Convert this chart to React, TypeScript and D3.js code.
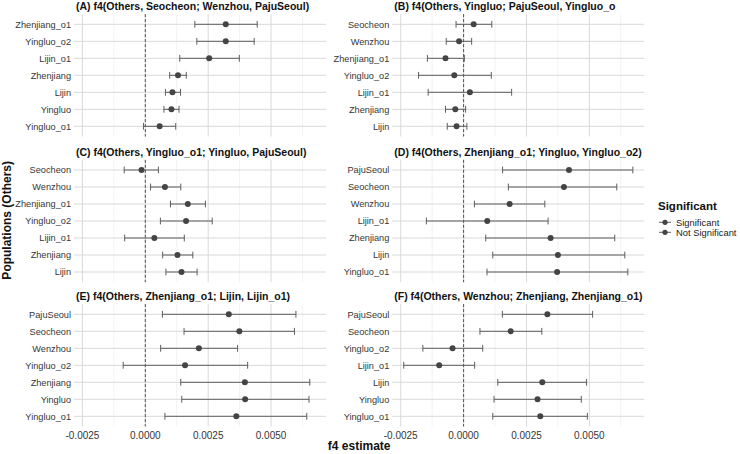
import React from "react";
import * as d3 from "d3";

// f4 estimates with confidence limits, one set of arrays per panel (rows listed top to bottom)
const popsA = ["Zhenjiang_o1", "Yingluo_o2", "Lijin_o1", "Zhenjiang", "Lijin", "Yingluo", "Yingluo_o1"];
const estA = [0.0032, 0.0032, 0.00254, 0.0013, 0.00108, 0.00104, 0.00057];
const lowA = [0.00197, 0.00205, 0.00137, 0.00097, 0.0008, 0.00074, -0.00007];
const highA = [0.00445, 0.00433, 0.00374, 0.00163, 0.0014, 0.00134, 0.00121];

const popsB = ["Seocheon", "Wenzhou", "Zhenjiang_o1", "Yingluo_o2", "Lijin_o1", "Zhenjiang", "Lijin"];
const estB = [0.0004, -0.00018, -0.00072, -0.00037, 0.00025, -0.00033, -0.00028];
const lowB = [-0.0003, -0.00069, -0.00144, -0.00179, -0.00141, -0.00072, -0.00065];
const highB = [0.00112, 0.00032, 0.00003, 0.0011, 0.00191, 0.00008, 0.00013];

const popsC = ["Seocheon", "Wenzhou", "Zhenjiang_o1", "Yingluo_o2", "Lijin_o1", "Zhenjiang", "Lijin"];
const estC = [-0.00015, 0.00078, 0.00169, 0.00162, 0.00036, 0.00128, 0.00144];
const lowC = [-0.00084, 0.00021, 0.001, 0.0006, -0.00082, 0.00069, 0.00082];
const highC = [0.00052, 0.00141, 0.00239, 0.00266, 0.00155, 0.00189, 0.00206];

const popsD = ["PajuSeoul", "Seocheon", "Wenzhou", "Lijin_o1", "Zhenjiang", "Lijin", "Yingluo_o1"];
const estD = [0.00419, 0.00399, 0.00183, 0.00094, 0.00346, 0.00375, 0.00372];
const lowD = [0.00155, 0.00178, 0.00043, -0.00148, 0.00088, 0.00116, 0.00093];
const highD = [0.00673, 0.00609, 0.00323, 0.00336, 0.00601, 0.00641, 0.00653];

const popsE = ["PajuSeoul", "Seocheon", "Wenzhou", "Yingluo_o2", "Zhenjiang", "Yingluo", "Yingluo_o1"];
const estE = [0.00332, 0.00374, 0.00213, 0.00158, 0.00396, 0.00397, 0.00362];
const lowE = [0.00068, 0.00154, 0.00061, -0.00088, 0.00141, 0.00145, 0.00078];
const highE = [0.00599, 0.00593, 0.00367, 0.00407, 0.00654, 0.00651, 0.00642];

const popsF = ["PajuSeoul", "Seocheon", "Yingluo_o2", "Lijin_o1", "Lijin", "Yingluo", "Yingluo_o1"];
const estF = [0.00333, 0.00187, -0.00044, -0.00097, 0.00313, 0.00294, 0.00305];
const lowF = [0.00154, 0.00065, -0.00162, -0.00238, 0.00136, 0.00121, 0.00116];
const highF = [0.00513, 0.00311, 0.00076, 0.00044, 0.00489, 0.00468, 0.00492];

const titles = [
  "(A) f4(Others, Seocheon; Wenzhou, PajuSeoul)",
  "(B) f4(Others, Yingluo; PajuSeoul, Yingluo_o",
  "(C) f4(Others, Yingluo_o1; Yingluo, PajuSeoul)",
  "(D) f4(Others, Zhenjiang_o1; Yingluo, Yingluo_o2)",
  "(E) f4(Others, Zhenjiang_o1; Lijin, Lijin_o1)",
  "(F) f4(Others, Wenzhou; Zhenjiang, Zhenjiang_o1)",
];

const majorTicks = [-0.0025, 0, 0.0025, 0.005];
const minorTicks = [-0.00125, 0.00125, 0.00375, 0.00625];
const legendLabels = ["Significant", "Not Significant"];

const panels = [
  { pops: popsA, est: estA, low: lowA, high: highA },
  { pops: popsB, est: estB, low: lowB, high: highB },
  { pops: popsC, est: estC, low: lowC, high: highC },
  { pops: popsD, est: estD, low: lowD, high: highD },
  { pops: popsE, est: estE, low: lowE, high: highE },
  { pops: popsF, est: estF, low: lowF, high: highF },
];

const W = 740;
const H = 454;
const font = "'Liberation Sans', Arial, Helvetica, sans-serif";
const colLeft = [74, 392.3];
const panelW = 252;
const rowTop = [14.1, 159.8, 304.1];
const panelH = 122.4;

const pointColor = "#444444";
const barColor = "#5e5e5e";
const gridMajor = "#d9d9d9";
const gridMinor = "#e9e9e9";

// shared x scale with ggplot-style 5% expansion
const allLow = d3.min(panels.flatMap((p) => p.low)) as number;
const allHigh = d3.max(panels.flatMap((p) => p.high)) as number;
const pad = (allHigh - allLow) * 0.05;

function Panel({ idx }: { idx: number }) {
  const p = panels[idx];
  const col = idx % 2;
  const row = Math.floor(idx / 2);
  const x0 = colLeft[col];
  const y0 = rowTop[row];
  const x = d3.scaleLinear().domain([allLow - pad, allHigh + pad]).range([x0, x0 + panelW]);
  const y = d3.scalePoint<string>().domain(p.pops).range([y0, y0 + panelH]).padding(0.6);
  const cap = y.step() * 0.2;
  const clipId = `clip-${idx}`;

  return (
    <g>
      <defs>
        <clipPath id={clipId}>
          <rect x={x0} y={y0 - 16} width={W - x0 - 94} height={20} />
        </clipPath>
      </defs>
      {minorTicks.map((t) => (
        <line key={"mi" + t} x1={x(t)} x2={x(t)} y1={y0} y2={y0 + panelH} stroke={gridMinor} strokeWidth={0.6} />
      ))}
      {majorTicks.map((t) => (
        <line key={"ma" + t} x1={x(t)} x2={x(t)} y1={y0} y2={y0 + panelH} stroke={gridMajor} strokeWidth={1} />
      ))}
      {p.pops.map((name) => (
        <line key={"h" + name} x1={x0} x2={x0 + panelW} y1={y(name)} y2={y(name)} stroke={gridMajor} strokeWidth={1} />
      ))}
      {p.pops.map((name) => (
        <text
          key={"l" + name}
          x={x0 - 3}
          y={(y(name) as number) + 3.2}
          textAnchor="end"
          fontSize={9.2}
          fill="#363636"
        >
          {name}
        </text>
      ))}
      <line x1={x(0)} x2={x(0)} y1={y0} y2={y0 + panelH} stroke="#505050" strokeWidth={1} strokeDasharray="3,2" />
      {p.pops.map((name, i) => {
        const cy = y(name) as number;
        return (
          <g key={"m" + name}>
            <line x1={x(p.low[i])} x2={x(p.high[i])} y1={cy} y2={cy} stroke={barColor} strokeWidth={1} />
            <line x1={x(p.low[i])} x2={x(p.low[i])} y1={cy - cap} y2={cy + cap} stroke={barColor} strokeWidth={1} />
            <line x1={x(p.high[i])} x2={x(p.high[i])} y1={cy - cap} y2={cy + cap} stroke={barColor} strokeWidth={1} />
            <circle cx={x(p.est[i])} cy={cy} r={3} fill={pointColor} />
          </g>
        );
      })}
      <text x={x0 + 2} y={y0 - 4} fontSize={10.5} fontWeight="bold" fill="#111" clipPath={`url(#${clipId})`}>
        {titles[idx]}
      </text>
      {row === 2 &&
        majorTicks.map((t) => (
          <text key={"xt" + t} x={x(t)} y={y0 + panelH + 12.5} textAnchor="middle" fontSize={10} fill="#363636">
            {t.toFixed(4)}
          </text>
        ))}
    </g>
  );
}

export default function App() {
  const plotMid = (colLeft[0] + colLeft[1] + panelW) / 2;
  const yMid = (rowTop[0] + rowTop[2] + panelH) / 2;
  return (
    <svg width={W} height={H} style={{ position: "absolute", left: 0, top: 0, fontFamily: font }}>
      <rect width={W} height={H} fill="#fff" />
      {panels.map((_, i) => (
        <Panel key={i} idx={i} />
      ))}
      <text x={plotMid} y={450} textAnchor="middle" fontSize={12} fontWeight="bold" fill="#111">
        f4 estimate
      </text>
      <text
        transform={`translate(10.5,${yMid}) rotate(-90)`}
        textAnchor="middle"
        fontSize={12}
        fontWeight="bold"
        fill="#111"
      >
        Populations (Others)
      </text>
      <g>
        <text x={658} y={210} fontSize={11.5} fontWeight="bold" fill="#111">
          Significant
        </text>
        {legendLabels.map((lab, i) => {
          const cy = 222.3 + i * 10;
          return (
            <g key={lab}>
              <line x1={659} x2={671} y1={cy} y2={cy} stroke={barColor} strokeWidth={1} />
              <circle cx={665} cy={cy} r={2.6} fill={pointColor} />
              <text x={676} y={cy + 3.2} fontSize={9.4} fill="#222">
                {lab}
              </text>
            </g>
          );
        })}
      </g>
    </svg>
  );
}
